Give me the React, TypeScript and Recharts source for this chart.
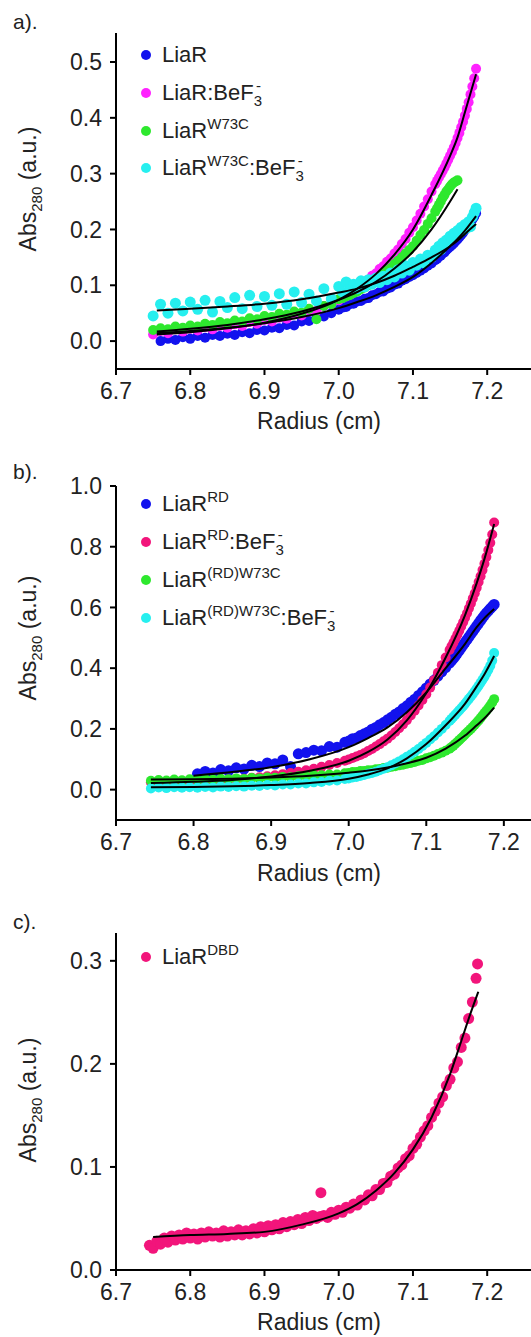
import React from "react";
import { ScatterChart, Scatter, XAxis, YAxis } from "recharts";

const FONT = '"Liberation Sans", Arial, Helvetica, sans-serif';
const TEXT = "#222";

const BLUE = "#1212ee";
const MAGENTA = "#ff22ff";
const GREEN = "#2ee82e";
const CYAN = "#26efef";
const PINK = "#f2157b";

const radiusTicks = [6.7, 6.8, 6.9, 7.0, 7.1, 7.2];
const ticksA = [0, 0.1, 0.2, 0.3, 0.4, 0.5];
const ticksB = [0, 0.2, 0.4, 0.6, 0.8, 1.0];
const ticksC = [0, 0.1, 0.2, 0.3];

// ---- panel a ----
const radiusA = [
  6.75, 6.76, 6.77, 6.78, 6.79, 6.8, 6.81, 6.82, 6.83, 6.84, 6.85, 6.86, 6.87, 6.88, 6.89, 6.9, 6.91, 6.92, 6.93, 6.94, 6.95, 6.96, 6.97, 6.98, 6.99,
  7.0, 7.005, 7.01, 7.015, 7.02, 7.025, 7.03, 7.035, 7.04, 7.045, 7.05, 7.055, 7.06, 7.065, 7.07, 7.075, 7.08, 7.085, 7.09, 7.095, 7.1, 7.105, 7.11, 7.115, 7.12, 7.125, 7.13,
  7.1325, 7.135, 7.1375, 7.14, 7.1425, 7.145, 7.1475, 7.15, 7.1525, 7.155, 7.1575, 7.16, 7.1625, 7.165, 7.1675, 7.17, 7.1725, 7.175, 7.1775, 7.18, 7.1825, 7.185,
];
const absLiaR = [
  null, 0.0, 0.004, 0.002, 0.007, 0.004, 0.009, 0.006, 0.011, 0.009, 0.013, 0.011, 0.016, 0.014, 0.02, 0.019, 0.024, 0.023, 0.029, 0.028, 0.035, 0.036, 0.042, 0.044, 0.05,
  0.056, 0.06, 0.061, 0.066, 0.067, 0.071, 0.072, 0.076, 0.077, 0.082, 0.084, 0.088, 0.089, 0.094, 0.096, 0.101, 0.103, 0.108, 0.111, 0.115, 0.118, 0.122, 0.126, 0.13, 0.135, 0.139, 0.145,
  0.147, 0.151, 0.153, 0.157, 0.159, 0.163, 0.166, 0.169, 0.172, 0.175, 0.179, 0.182, 0.186, 0.19, 0.194, 0.199, 0.203, 0.208, 0.213, 0.218, 0.223, 0.229,
];
const absLiaRBeF = [
  0.012, 0.018, 0.014, 0.021, 0.017, 0.022, 0.019, 0.025, 0.021, 0.027, 0.024, 0.03, 0.027, 0.034, 0.031, 0.038, 0.035, 0.042, 0.04, 0.048, 0.046, 0.055, 0.054, 0.063, 0.066,
  0.073, 0.079, 0.08, 0.087, 0.09, 0.097, 0.099, 0.106, 0.11, 0.117, 0.121, 0.129, 0.134, 0.142, 0.148, 0.157, 0.164, 0.174, 0.183, 0.194, 0.204, 0.216, 0.228, 0.241, 0.254, 0.268, 0.281,
  0.287, 0.293, 0.299, 0.305, 0.311, 0.318, 0.325, 0.332, 0.339, 0.347, 0.355, 0.364, 0.373, 0.383, 0.393, 0.404, 0.416, 0.428, 0.442, 0.456, 0.471, 0.488,
];
const absW73C = [
  0.02, 0.023, 0.021, 0.026, 0.024, 0.028, 0.026, 0.031, 0.029, 0.034, 0.032, 0.037, 0.035, 0.041, 0.039, 0.045, 0.043, 0.049, 0.047, 0.053, 0.051, 0.058, 0.039, 0.063, 0.066,
  0.075, 0.077, 0.08, 0.082, 0.086, 0.089, 0.093, 0.096, 0.1, 0.105, 0.109, 0.114, 0.12, 0.126, 0.131, 0.138, 0.144, 0.15, 0.157, 0.163, 0.17, 0.18, 0.19, 0.199, 0.21, 0.22, 0.232,
  0.238, 0.244, 0.25, 0.257, 0.262, 0.268, 0.272, 0.277, 0.281, 0.284, 0.286, 0.288, null, null, null, null, null, null, null, null, null, null,
];
const absW73CBeF = [
  0.045, 0.066, 0.05, 0.068, 0.054, 0.07, 0.057, 0.073, 0.052, 0.071, 0.06, 0.078, 0.058, 0.082, 0.062, 0.08, 0.064, 0.085, 0.066, 0.088, 0.069, 0.084, 0.072, 0.094, 0.076,
  0.098, 0.088, 0.106, 0.092, 0.102, 0.094, 0.108, 0.097, 0.11, 0.102, 0.113, 0.105, 0.116, 0.11, 0.122, 0.115, 0.128, 0.122, 0.135, 0.127, 0.141, 0.136, 0.147, 0.14, 0.154, 0.15, 0.163,
  0.16, 0.17, 0.164, 0.176, 0.172, 0.181, 0.178, 0.188, 0.183, 0.193, 0.188, 0.198, 0.194, 0.204, 0.199, 0.209, 0.203, 0.214, 0.205, 0.222, 0.23, 0.238,
];
const fitRadiusA = [6.755, 6.8, 6.85, 6.9, 6.95, 7.0, 7.025, 7.05, 7.075, 7.1, 7.125, 7.15, 7.16, 7.17, 7.185];
const fitLiaR = [0.014, 0.018, 0.024, 0.032, 0.043, 0.059, 0.07, 0.082, 0.097, 0.115, 0.14, 0.17, 0.183, 0.198, 0.224];
const fitLiaRBeF = [0.012, 0.016, 0.023, 0.033, 0.049, 0.074, 0.094, 0.12, 0.155, 0.2, 0.262, 0.332, 0.365, 0.41, 0.478];
const fitW73C = [0.017, 0.022, 0.029, 0.039, 0.053, 0.074, 0.088, 0.106, 0.13, 0.16, 0.2, 0.25, 0.272, null, null];
const fitW73CBeF = [0.055, 0.058, 0.062, 0.067, 0.075, 0.087, 0.094, 0.104, 0.117, 0.133, 0.15, 0.17, 0.18, 0.192, 0.21];

// ---- panel b ----
const radiusB = [
  6.745, 6.755, 6.765, 6.775, 6.785, 6.795, 6.805, 6.815, 6.825, 6.835, 6.845, 6.855, 6.865, 6.875, 6.885, 6.895, 6.905, 6.915, 6.925, 6.935, 6.945, 6.955, 6.965, 6.975, 6.985, 6.995,
  7.0, 7.005, 7.01, 7.015, 7.02, 7.025, 7.03, 7.035, 7.04, 7.045, 7.05, 7.055, 7.06, 7.065, 7.07, 7.075, 7.08, 7.085, 7.09, 7.095, 7.1, 7.105, 7.11, 7.115, 7.12, 7.125, 7.13,
  7.1325, 7.135, 7.1375, 7.14, 7.1425, 7.145, 7.1475, 7.15, 7.1525, 7.155, 7.1575, 7.16, 7.1625, 7.165, 7.1675, 7.17, 7.1725, 7.175, 7.1775, 7.18, 7.1825, 7.185, 7.1875,
];
const absRD = [
  null, null, null, null, null, null, 0.052, 0.06, 0.055, 0.066, 0.062, 0.072, 0.068, 0.08, 0.076, 0.088, 0.085, 0.098, 0.076, 0.118, 0.122, 0.13, 0.128, 0.142, 0.14, 0.156,
  0.16, 0.168, 0.17, 0.178, 0.184, 0.19, 0.199, 0.205, 0.214, 0.221, 0.23, 0.238, 0.248, 0.256, 0.267, 0.276, 0.288, 0.298, 0.31, 0.322, 0.335, 0.348, 0.36, 0.374, 0.388, 0.402, 0.417,
  0.424, 0.432, 0.44, 0.449, 0.458, 0.467, 0.476, 0.485, 0.494, 0.503, 0.512, 0.521, 0.53, 0.539, 0.548, 0.557, 0.566, 0.574, 0.582, 0.589, 0.596, 0.603, 0.61,
];
const absRDBeF = [
  0.024, 0.026, 0.025, 0.027, 0.026, 0.028, 0.027, 0.029, 0.03, 0.031, 0.033, 0.034, 0.036, 0.039, 0.041, 0.044, 0.047, 0.051, 0.055, 0.059, 0.064, 0.069, 0.075, 0.081, 0.088, 0.095,
  0.099, 0.104, 0.109, 0.114, 0.12, 0.127, 0.134, 0.142, 0.15, 0.159, 0.168, 0.178, 0.19, 0.202, 0.215, 0.229, 0.244, 0.26, 0.277, 0.295, 0.314, 0.336, 0.36, 0.385, 0.41, 0.435, 0.46,
  0.472, 0.484, 0.497, 0.51, 0.523, 0.537, 0.551, 0.566, 0.581, 0.597, 0.613, 0.63, 0.647, 0.665, 0.684, 0.703, 0.723, 0.744, 0.766, 0.789, 0.813, 0.84, 0.88,
];
const absRDW73C = [
  0.029, 0.032, 0.03, 0.033, 0.031, 0.034, 0.032, 0.035, 0.033, 0.036, 0.034, 0.037, 0.035, 0.038, 0.037, 0.04, 0.039, 0.042, 0.041, 0.044, 0.044, 0.047, 0.047, 0.05, 0.05, 0.054,
  0.055, 0.058, 0.058, 0.061, 0.061, 0.064, 0.064, 0.067, 0.068, 0.071, 0.072, 0.075, 0.077, 0.08, 0.082, 0.085, 0.088, 0.091, 0.095, 0.098, 0.103, 0.107, 0.112, 0.117, 0.122, 0.128, 0.135,
  0.14, 0.145, 0.151, 0.157, 0.163, 0.169, 0.175, 0.182, 0.188, 0.194, 0.2, 0.207, 0.214, 0.221, 0.228, 0.236, 0.244, 0.252, 0.26, 0.268, 0.277, 0.287, 0.298,
];
const absRDW73CBeF = [
  0.004, 0.007, 0.005, 0.008, 0.006, 0.008, 0.006, 0.009, 0.007, 0.01, 0.009, 0.011, 0.01, 0.013, 0.012, 0.015, 0.014, 0.017, 0.017, 0.02, 0.02, 0.024, 0.025, 0.029, 0.03, 0.035,
  0.037, 0.04, 0.042, 0.045, 0.048, 0.052, 0.055, 0.059, 0.064, 0.069, 0.074, 0.08, 0.086, 0.093, 0.1, 0.108, 0.116, 0.125, 0.134, 0.144, 0.154, 0.165, 0.176, 0.188, 0.2, 0.213, 0.226,
  0.233, 0.24, 0.247, 0.254, 0.261, 0.268, 0.275, 0.283, 0.291, 0.299, 0.307, 0.315, 0.324, 0.333, 0.342, 0.352, 0.362, 0.372, 0.383, 0.395, 0.408, 0.425, 0.45,
];
const fitRadiusB = [6.745, 6.8, 6.85, 6.9, 6.95, 7.0, 7.025, 7.05, 7.075, 7.1, 7.125, 7.15, 7.165, 7.175, 7.1875];
const fitRD = [null, 0.046, 0.058, 0.074, 0.1, 0.14, 0.17, 0.205, 0.255, 0.32, 0.4, 0.48, 0.535, 0.565, 0.595];
const fitRDBeF = [0.022, 0.026, 0.032, 0.043, 0.062, 0.095, 0.124, 0.165, 0.228, 0.318, 0.435, 0.575, 0.68, 0.76, 0.875];
const fitRDW73C = [0.033, 0.034, 0.036, 0.04, 0.046, 0.056, 0.063, 0.073, 0.087, 0.105, 0.135, 0.178, 0.212, 0.235, 0.27];
const fitRDW73CBeF = [0.008, 0.009, 0.011, 0.015, 0.022, 0.036, 0.05, 0.07, 0.103, 0.15, 0.212, 0.283, 0.34, 0.38, 0.44];

// ---- panel c ----
const radiusC = [
  6.745, 6.75, 6.755, 6.76, 6.765, 6.77, 6.775, 6.78, 6.785, 6.79, 6.795, 6.8, 6.805, 6.81, 6.815, 6.82, 6.825, 6.83, 6.835, 6.84, 6.845, 6.85, 6.855, 6.86, 6.865, 6.87,
  6.875, 6.88, 6.885, 6.89, 6.895, 6.9, 6.905, 6.91, 6.915, 6.92, 6.925, 6.93, 6.935, 6.94, 6.945, 6.95, 6.955, 6.96, 6.965, 6.97, 6.975, 6.976, 6.98, 6.985, 6.99, 6.995,
  7.0, 7.005, 7.01, 7.015, 7.02, 7.025, 7.03, 7.035, 7.04, 7.045, 7.05, 7.055, 7.06, 7.065, 7.07, 7.075, 7.08, 7.085, 7.09, 7.095, 7.1, 7.105, 7.11, 7.115, 7.12, 7.125,
  7.13, 7.135, 7.14, 7.145, 7.15, 7.155, 7.16, 7.165, 7.17, 7.175, 7.18, 7.185, 7.187,
];
const absDBD = [
  0.024, 0.021, 0.028, 0.025, 0.031, 0.027, 0.033, 0.029, 0.034, 0.03, 0.036, 0.031, 0.035, 0.03, 0.036, 0.032, 0.037, 0.033, 0.036, 0.032, 0.038, 0.033, 0.037, 0.034, 0.039, 0.034,
  0.038, 0.035, 0.04, 0.036, 0.042, 0.037, 0.043, 0.039, 0.044, 0.04, 0.046, 0.042, 0.047, 0.044, 0.049, 0.045, 0.051, 0.048, 0.053, 0.05, 0.052, 0.075, 0.053, 0.051, 0.056, 0.054,
  0.058, 0.056, 0.061, 0.06, 0.064, 0.063, 0.068, 0.068, 0.073, 0.072, 0.078, 0.078, 0.084, 0.085, 0.091, 0.093, 0.099, 0.102, 0.108, 0.111, 0.118, 0.122, 0.129, 0.135, 0.14, 0.148,
  0.154, 0.162, 0.168, 0.179, 0.185, 0.196, 0.202, 0.216, 0.225, 0.244, 0.26, 0.283, 0.297,
];
const fitRadiusC = [6.75, 6.8, 6.85, 6.9, 6.95, 7.0, 7.025, 7.05, 7.075, 7.1, 7.125, 7.15, 7.165, 7.178, 7.188];
const fitDBD = [0.032, 0.034, 0.035, 0.037, 0.044, 0.055, 0.064, 0.077, 0.094, 0.117, 0.148, 0.19, 0.222, 0.25, 0.27];

type Pt = { x: number; y: number };
const pts = (xs: number[], ys: (number | null)[]): Pt[] =>
  xs.map((x, i) => ({ x, y: ys[i] as number })).filter((p) => p.y != null);

const dot = (color: string, r: number) => (p: any) =>
  <circle cx={p.cx} cy={p.cy} r={r} fill={color} />;
const noDot = () => <g />;

const Sup = ({ children }: { children: React.ReactNode }) => (
  <span style={{ fontSize: 15, position: "relative", top: -9 }}>{children}</span>
);
const Sub = ({ children }: { children: React.ReactNode }) => (
  <span style={{ fontSize: 15, position: "relative", top: 6 }}>{children}</span>
);
const BeF3 = () => (
  <>
    :BeF<Sub>3</Sub>
    <span style={{ marginLeft: -6 }}>
      <Sup>-</Sup>
    </span>
  </>
);

interface PanelProps {
  top: number;
  height: number;
  mTop: number;
  mBottom: number;
  xMax: number;
  yDomain: [number, number];
  yTicks: number[];
  series: { data: Pt[]; color: string; r: number }[];
  fits: Pt[][];
}

function Panel({ top, height, mTop, mBottom, xMax, yDomain, yTicks, series, fits }: PanelProps) {
  const tick = { fontSize: 23, fill: TEXT, fontFamily: FONT };
  const line = { stroke: "#000", strokeWidth: 2 };
  return (
    <div style={{ position: "absolute", left: 0, top }}>
      <ScatterChart width={531} height={height} margin={{ top: mTop, right: 0, bottom: mBottom, left: 0 }}>
        <XAxis
          type="number"
          dataKey="x"
          domain={[6.7, xMax]}
          ticks={radiusTicks}
          interval={0}
          allowDataOverflow
          tickFormatter={(v: number) => v.toFixed(1)}
          tick={tick}
          tickSize={6}
          tickMargin={8}
          axisLine={line}
          tickLine={line}
          height={40}
        />
        <YAxis
          type="number"
          dataKey="y"
          domain={yDomain}
          ticks={yTicks}
          interval={0}
          allowDataOverflow
          tickFormatter={(v: number) => v.toFixed(1)}
          tick={tick}
          tickSize={6}
          tickMargin={8}
          axisLine={line}
          tickLine={line}
          width={116}
        />
        {series.map((s, i) => (
          <Scatter key={"s" + i} data={s.data} fill={s.color} shape={dot(s.color, s.r)} isAnimationActive={false} />
        ))}
        {fits.map((f, i) => (
          <Scatter
            key={"f" + i}
            data={f}
            line={{ stroke: "#000", strokeWidth: 2 }}
            lineJointType="monotoneX"
            shape={noDot}
            isAnimationActive={false}
          />
        ))}
      </ScatterChart>
    </div>
  );
}

const textBase: React.CSSProperties = {
  position: "absolute",
  fontFamily: FONT,
  color: TEXT,
  whiteSpace: "nowrap",
};

function Legend({ rows }: { rows: { y: number; color: string; label: React.ReactNode }[] }) {
  return (
    <>
      {rows.map((r, i) => (
        <React.Fragment key={i}>
          <div
            style={{
              position: "absolute",
              left: 140.5,
              top: r.y - 5,
              width: 10,
              height: 10,
              borderRadius: "50%",
              background: r.color,
            }}
          />
          <div style={{ ...textBase, left: 162, top: r.y - 15, height: 30, lineHeight: "30px", fontSize: 22 }}>
            {r.label}
          </div>
        </React.Fragment>
      ))}
    </>
  );
}

function YTitle({ cy }: { cy: number }) {
  return (
    <div
      style={{
        ...textBase,
        left: 28 - 110,
        top: cy - 15,
        width: 220,
        height: 30,
        lineHeight: "30px",
        textAlign: "center",
        fontSize: 23,
        transform: "rotate(-90deg)",
      }}
    >
      Abs<Sub>280</Sub> (a.u.)
    </div>
  );
}

function XTitle({ cy }: { cy: number }) {
  return (
    <div
      style={{
        ...textBase,
        left: 319 - 100,
        top: cy - 15,
        width: 200,
        height: 30,
        lineHeight: "30px",
        textAlign: "center",
        fontSize: 23,
      }}
    >
      Radius (cm)
    </div>
  );
}

function PanelTag({ text, cy }: { text: string; cy: number }) {
  return (
    <div style={{ ...textBase, left: 13, top: cy - 15, height: 30, lineHeight: "30px", fontSize: 21 }}>{text}</div>
  );
}

export default function App() {
  return (
    <div style={{ position: "absolute", left: 0, top: 0, width: 531, height: 1337, background: "#fff", overflow: "hidden" }}>
      <Panel
        top={0}
        height={440}
        mTop={33}
        mBottom={31}
        xMax={7.259}
        yDomain={[-0.05, 0.552]}
        yTicks={ticksA}
        series={[
          { data: pts(radiusA, absLiaR), color: BLUE, r: 5 },
          { data: pts(radiusA, absLiaRBeF), color: MAGENTA, r: 5 },
          { data: pts(radiusA, absW73C), color: GREEN, r: 5 },
          { data: pts(radiusA, absW73CBeF), color: CYAN, r: 5.5 },
        ]}
        fits={[
          pts(fitRadiusA, fitLiaR),
          pts(fitRadiusA, fitLiaRBeF),
          pts(fitRadiusA, fitW73C),
          pts(fitRadiusA, fitW73CBeF),
        ]}
      />
      <Panel
        top={440}
        height={440}
        mTop={46}
        mBottom={20}
        xMax={7.235}
        yDomain={[-0.1, 1.0]}
        yTicks={ticksB}
        series={[
          { data: pts(radiusB, absRD), color: BLUE, r: 5.5 },
          { data: pts(radiusB, absRDBeF), color: PINK, r: 5 },
          { data: pts(radiusB, absRDW73C), color: GREEN, r: 5 },
          { data: pts(radiusB, absRDW73CBeF), color: CYAN, r: 5 },
        ]}
        fits={[
          pts(fitRadiusB, fitRD),
          pts(fitRadiusB, fitRDBeF),
          pts(fitRadiusB, fitRDW73C),
          pts(fitRadiusB, fitRDW73CBeF),
        ]}
      />
      <Panel
        top={880}
        height={457}
        mTop={53}
        mBottom={27}
        xMax={7.259}
        yDomain={[0, 0.327]}
        yTicks={ticksC}
        series={[{ data: pts(radiusC, absDBD), color: PINK, r: 5.5 }]}
        fits={[pts(fitRadiusC, fitDBD)]}
      />

      <PanelTag text="a)." cy={22} />
      <Legend
        rows={[
          { y: 55, color: BLUE, label: <>LiaR</> },
          { y: 93, color: MAGENTA, label: <>LiaR<BeF3 /></> },
          { y: 131, color: GREEN, label: <>LiaR<Sup>W73C</Sup></> },
          { y: 168, color: CYAN, label: <>LiaR<Sup>W73C</Sup><BeF3 /></> },
        ]}
      />
      <YTitle cy={189} />
      <XTitle cy={421} />

      <PanelTag text="b)." cy={472} />
      <Legend
        rows={[
          { y: 504, color: BLUE, label: <>LiaR<Sup>RD</Sup></> },
          { y: 542, color: PINK, label: <>LiaR<Sup>RD</Sup><BeF3 /></> },
          { y: 580, color: GREEN, label: <>LiaR<Sup>(RD)W73C</Sup></> },
          { y: 618, color: CYAN, label: <>LiaR<Sup>(RD)W73C</Sup><BeF3 /></> },
        ]}
      />
      <YTitle cy={638} />
      <XTitle cy={873} />

      <PanelTag text="c)." cy={922} />
      <Legend rows={[{ y: 957, color: PINK, label: <>LiaR<Sup>DBD</Sup></> }]} />
      <YTitle cy={1100} />
      <XTitle cy={1322} />
    </div>
  );
}
